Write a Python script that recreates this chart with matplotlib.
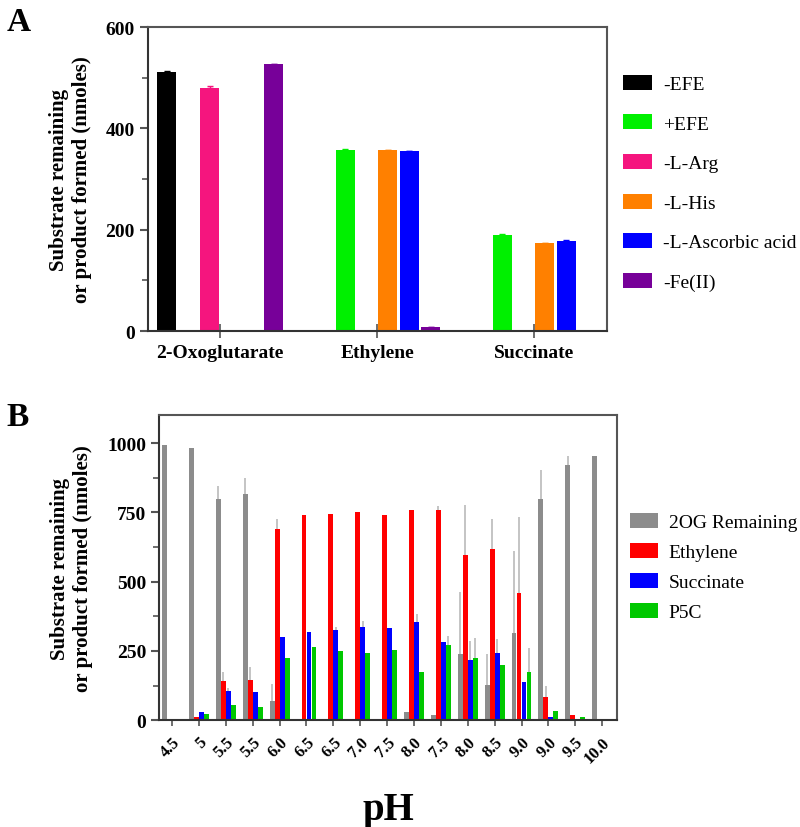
import numpy as np
import matplotlib
matplotlib.use("Agg")
import matplotlib.pyplot as plt

plt.rcParams['font.family'] = ['Liberation Serif', 'DejaVu Serif']

# ---- Panel A data ----
a_groups = ['2-Oxoglutarate', 'Ethylene', 'Succinate']
a_conditions = ['-EFE', '+EFE', '-L-Arg', '-L-His', '-L-Ascorbic acid', '-Fe(II)']
a_colors = ['#000000', '#00F000', '#F5157E', '#FF8000', '#0000FF', '#770099']
a_values = [
    [512, 0, 0],      # -EFE
    [0, 358, 190],    # +EFE
    [480, 0, 0],      # -L-Arg
    [0, 357, 173],    # -L-His
    [0, 355, 177],    # -L-Ascorbic acid
    [527, 8, 0],      # -Fe(II)
]
a_err = [
    [1, 0, 0],
    [0, 1, 1],
    [4, 0, 0],
    [0, 1, 1],
    [0, 1, 2],
    [1, 0, 0],
]

# ---- Panel B data ----
ph_labels = ['4.5', '5', '5.5', '5.5', '6.0', '6.5', '6.5', '7.0', '7.5',
             '8.0', '7.5', '8.0', '8.5', '9.0', '9.0', '9.5', '10.0']
b_series = ['2OG Remaining', 'Ethylene', 'Succinate', 'P5C']
b_colors = ['#8C8C8C', '#FF0000', '#0000FF', '#00C800']
og_remaining = [994, 982, 798, 818, 70, 0, 3, 3, 3, 31, 19, 238, 128, 313, 798, 921, 954]
og_err = [0, 0, 48, 58, 60, 0, 0, 0, 0, 0, 0, 223, 110, 298, 106, 31, 0]
ethylene = [5, 10, 142, 144, 690, 741, 745, 750, 740, 758, 760, 596, 617, 458, 82, 19, 0]
eth_err = [0, 0, 31, 47, 36, 0, 0, 0, 0, 0, 14, 180, 109, 276, 42, 0, 0]
succinate = [0, 31, 106, 100, 301, 317, 326, 335, 331, 353, 284, 217, 243, 138, 13, 0, 0]
succ_err = [0, 0, 10, 0, 0, 0, 10, 23, 0, 30, 0, 69, 49, 0, 0, 0, 0]
p5c = [5, 22, 55, 49, 224, 265, 250, 244, 253, 174, 273, 224, 199, 174, 34, 13, 0]
p5c_err = [0, 0, 0, 0, 0, 0, 0, 0, 0, 0, 31, 74, 0, 88, 0, 0, 0]

b_values = [og_remaining, ethylene, succinate, p5c]
b_errs = [og_err, eth_err, succ_err, p5c_err]

spine_col = '#555555'
ylab = 'Substrate remaining\nor product formed (nmoles)'

fig = plt.figure(figsize=(8, 8.28), dpi=100)

# ================= Panel A =================
axA = fig.add_axes([0.185, 0.599, 0.574, 0.367])
xa = np.arange(len(a_groups))
slot = 0.136
for i, (cond, col) in enumerate(zip(a_conditions, a_colors)):
    pos = xa + (i - 2.5) * slot
    err = np.array(a_err[i])
    axA.bar(pos, a_values[i], width=0.121, color=col, label=cond,
            yerr=[np.zeros_like(err), err], capsize=2,
            error_kw=dict(ecolor=col, elinewidth=1.0, capthick=1.0))

axA.set_xlim(-0.46, 2.465)
axA.set_ylim(0, 600)
axA.set_yticks([0, 200, 400, 600])
axA.set_yticks([100, 300, 500], minor=True)
axA.set_xticks(xa)
axA.set_xticklabels(a_groups, fontsize=14, fontweight='bold')
axA.tick_params(axis='x', direction='inout', length=10, width=1.2, color=spine_col, pad=4)
axA.tick_params(axis='y', which='major', length=6, width=1.5, color=spine_col, labelsize=14)
axA.tick_params(axis='y', which='minor', length=4, width=1.2, color=spine_col)
for lab in axA.get_yticklabels():
    lab.set_fontweight('bold')
axA.set_ylabel(ylab, fontsize=15, fontweight='bold', labelpad=10)
for sp in axA.spines.values():
    sp.set_color(spine_col)
    sp.set_linewidth(1.5)
axA.spines['left'].set_color('#333333')
axA.spines['bottom'].set_color('#333333')

fig.legend(*axA.get_legend_handles_labels(), loc='center left',
           bbox_to_anchor=(623 / 800, 1 - 184 / 828), frameon=False,
           fontsize=14, handlelength=1.5, handleheight=0.8,
           handletextpad=0.55, labelspacing=1.1, borderpad=0, borderaxespad=0)

fig.text(0.008, 0.962, 'A', fontsize=24, fontweight='bold')

# ================= Panel B =================
axB = fig.add_axes([0.199, 0.129, 0.5725, 0.368])
xb = np.arange(len(ph_labels))
bslot = 0.186
for i, (name, col) in enumerate(zip(b_series, b_colors)):
    pos = xb + (i - 1.5) * bslot
    err = np.array(b_errs[i])
    axB.bar(pos, b_values[i], width=0.18, color=col, label=name, zorder=2)
    mask = err > 0
    axB.errorbar(pos[mask], np.array(b_values[i])[mask],
                 yerr=[np.zeros(mask.sum()), err[mask]], fmt='none',
                 ecolor='#BFBFBF', elinewidth=1.3, capsize=0, zorder=1)

axB.set_xlim(-0.48, 16.56)
axB.set_ylim(0, 1100)
axB.set_yticks([0, 250, 500, 750, 1000])
axB.set_yticks([125, 375, 625, 875], minor=True)
axB.set_xticks(xb)
axB.set_xticklabels(ph_labels, rotation=45, ha='right', rotation_mode='anchor',
                    fontsize=12, fontweight='bold')
axB.tick_params(axis='x', length=4, width=1.2, color=spine_col, pad=6)
axB.tick_params(axis='y', which='major', length=6, width=1.5, color=spine_col, labelsize=14)
axB.tick_params(axis='y', which='minor', length=4, width=1.2, color=spine_col)
for lab in axB.get_yticklabels():
    lab.set_fontweight('bold')
axB.set_ylabel(ylab, fontsize=15, fontweight='bold', labelpad=10)
axB.set_xlabel('pH', fontsize=28, fontweight='bold', labelpad=18)
for sp in axB.spines.values():
    sp.set_color(spine_col)
    sp.set_linewidth(1.5)
axB.spines['left'].set_color('#333333')
axB.spines['bottom'].set_color('#333333')

fig.legend(*axB.get_legend_handles_labels(), loc='center left',
           bbox_to_anchor=(630 / 800, 1 - 568 / 828), frameon=False,
           fontsize=14, handlelength=1.45, handleheight=0.8,
           handletextpad=0.55, labelspacing=0.6, borderpad=0, borderaxespad=0)

fig.text(0.008, 0.485, 'B', fontsize=24, fontweight='bold')

fig.savefig('out.png', dpi=100)
